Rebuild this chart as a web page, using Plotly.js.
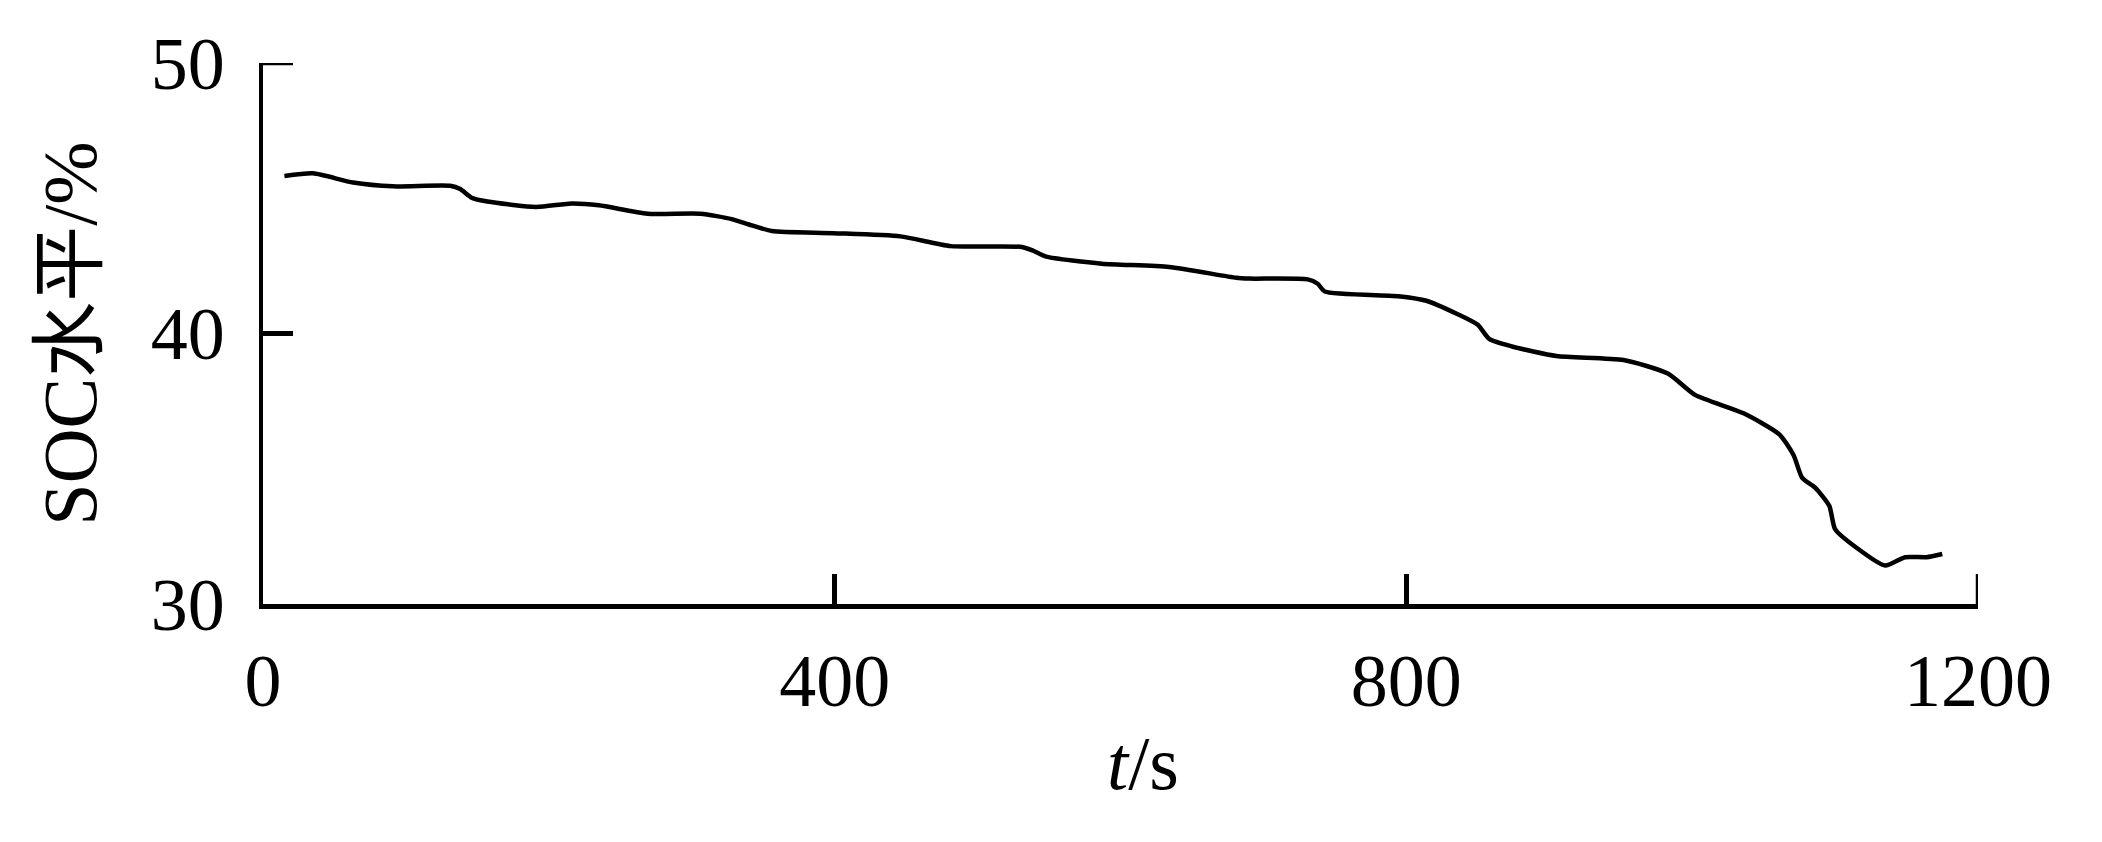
<!DOCTYPE html>
<html>
<head>
<meta charset="utf-8">
<script src="https://cdn.plot.ly/plotly-3.0.1.min.js"></script>
<style>html,body{margin:0;padding:0;background:#fff;}#chart{width:2102px;height:842px;}</style>
</head>
<body>
<div id="chart"></div>
<script>
const timeS = [15, 35, 63, 91, 131, 138, 146, 157, 191, 216, 235, 269, 306, 328, 340, 356, 399, 446, 481, 531, 539, 548, 587, 634, 681, 690, 731, 738, 743, 796, 814, 836, 850, 858, 874, 905, 952, 983, 1002, 1036, 1061, 1071, 1077, 1086, 1096, 1100, 1115, 1135, 1149, 1164, 1175];
const socLevel = [45.82, 45.92, 45.58, 45.44, 45.46, 45.34, 45.02, 44.88, 44.68, 44.81, 44.74, 44.43, 44.43, 44.23, 44.03, 43.79, 43.71, 43.59, 43.23, 43.20, 43.06, 42.84, 42.58, 42.46, 42.06, 42.03, 42.00, 41.84, 41.55, 41.37, 41.21, 40.71, 40.32, 39.80, 39.52, 39.17, 39.02, 38.52, 37.73, 37.05, 36.27, 35.50, 34.66, 34.30, 33.62, 32.77, 32.08, 31.42, 31.73, 31.73, 31.85];
const xTicks = [0, 400, 800, 1200];
const yTicks = [30, 40, 50];
const xTitle = '<i>t</i>/s';
const yTitle = 'SOC水平/%';

const fontFam = '"Liberation Serif", "Times New Roman", "Noto Sans CJK SC", serif';

const trace = {
  x: timeS, y: socLevel, type: 'scatter', mode: 'lines',
  line: {color: '#000', width: 4.5, shape: 'spline', smoothing: 0.6},
  hoverinfo: 'skip'
};

const axisCommon = {
  showline: true, linecolor: '#000', linewidth: 4.5,
  ticks: 'inside', ticklen: 30, tickwidth: 4.5, tickcolor: '#000',
  showgrid: false, zeroline: false,
  tickfont: {family: fontFam, size: 74, color: '#000'}
};

const xMax = xTicks[xTicks.length - 1];
const yMax = yTicks[yTicks.length - 1];
const yMin = yTicks[0];

const layout = {
  width: 2102, height: 842,
  margin: {l: 263, r: 124, t: 63, b: 238},
  paper_bgcolor: '#fff', plot_bgcolor: '#fff',
  showlegend: false,
  xaxis: Object.assign({}, axisCommon, {
    range: [xTicks[0], xMax], tickvals: xTicks, ticktext: xTicks.map(String),
    ticklabelstandoff: 9
  }),
  yaxis: Object.assign({}, axisCommon, {
    range: [yMin, yMax], tickvals: yTicks, ticktext: yTicks.map(String),
    ticklabelstandoff: 19,
    title: {text: yTitle, font: {family: fontFam, size: 76, color: '#000'}, standoff: 30}
  }),
  annotations: [{
    text: xTitle, xref: 'paper', yref: 'paper', x: 0.513, y: 0,
    xanchor: 'center', yanchor: 'middle', yshift: -159, showarrow: false,
    font: {family: fontFam, size: 76, color: '#000'}
  }],
  shapes: [
    {type: 'line', xref: 'x', yref: 'y', xsizemode: 'pixel', xanchor: 0, x0: 0, x1: 30, y0: yMax, y1: yMax,
     line: {color: '#000', width: 4.5}},
    {type: 'line', xref: 'x', yref: 'y', ysizemode: 'pixel', yanchor: yMin, y0: 0, y1: 30, x0: xMax, x1: xMax,
     line: {color: '#000', width: 4.5}}
  ]
};

Plotly.newPlot('chart', [trace], layout, {staticPlot: true, displayModeBar: false});
</script>
</body>
</html>
